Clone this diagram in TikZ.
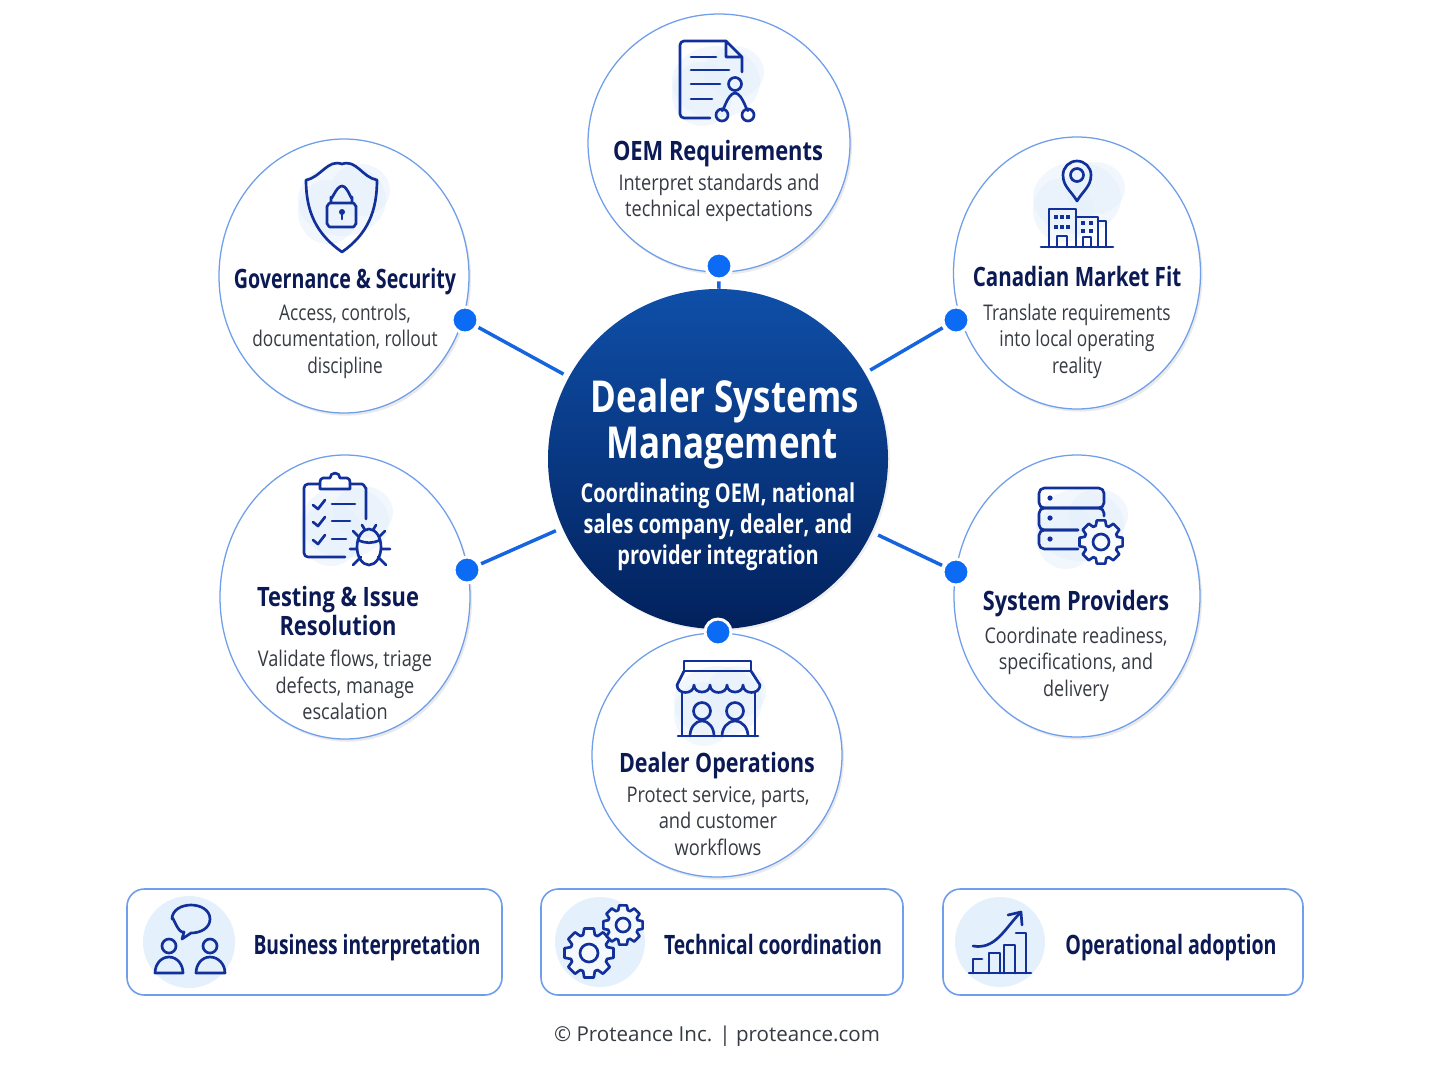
\documentclass[tikz,border=0pt]{standalone}
\usepackage{fontspec}
\usetikzlibrary{shapes.geometric,shadows,arrows.meta}
\setmainfont{Open Sans}
\newfontfamily\headfont{Open Sans}[FakeStretch=0.76]
\newfontfamily\bodyfont{Open Sans}[FakeStretch=0.80]
\newcommand{\pxu}{0.75pt}
\definecolor{ringblue}{HTML}{6F9EEB}
\definecolor{dotblue}{HTML}{0B6BF5}
\definecolor{linkblue}{HTML}{1565E0}
\definecolor{iconblue}{HTML}{12309A}
\definecolor{navytext}{HTML}{0B1A55}
\definecolor{bodygray}{HTML}{363A42}
\definecolor{paleblue}{HTML}{E4F0FB}
\definecolor{hubtop}{HTML}{0F4FA8}
\definecolor{hubbottom}{HTML}{02215C}
\tikzset{
    spoke/.style={ellipse, draw=ringblue, line width=0.95pt, fill=white, inner sep=0pt,
        drop shadow={shadow xshift=1.5pt, shadow yshift=-2pt, fill=black!16}},
    hubnode/.style={circle, minimum size=340*\pxu, inner sep=0pt, top color=hubtop, bottom color=hubbottom,
        drop shadow={shadow xshift=1.5pt, shadow yshift=-1.5pt, fill=black!12}},
    linkdot/.style={circle, minimum size=26*\pxu, inner sep=0pt, fill=dotblue, draw=white, line width=2.2pt},
    link/.style={draw=linkblue, line width=2.6pt},
    stretched/.style={xscale=#1, transform shape},
    title/.style={align=center, text=navytext, inner sep=0pt, font=\headfont\bfseries\fontsize{20}{22}\selectfont},
    blurb/.style={align=center, text=bodygray, inner sep=0pt, font=\bodyfont\fontsize{16.2}{19.9}\selectfont},
    hubtitle/.style={align=center, text=white, inner sep=0pt, font=\headfont\bfseries\fontsize{33}{34.5}\selectfont},
    hubtext/.style={align=center, text=white, inner sep=0pt, font=\headfont\bfseries\fontsize{19.5}{23.3}\selectfont},
    band/.style={rectangle, rounded corners=13pt, draw=ringblue, line width=1.2pt, fill=white, inner sep=0pt, minimum height=106*\pxu},
    bandtext/.style={text=navytext, inner sep=0pt, font=\headfont\bfseries\fontsize{20}{22}\selectfont},
    icon/.style={draw=iconblue, line width=2pt, line join=round, line cap=round},
    blob/.style={fill=paleblue, fill opacity=0.5},
}
\newcommand{\gearicon}[5]{
    \begin{scope}[shift={(#1,#2)}]
    \draw[icon, fill=white, fill opacity=0.6] (11:#3)
        \foreach \a in {0,45,...,315} {
            -- (\a+11:#3) -- (\a+18:#4) -- (\a+27:#4) -- (\a+34:#3)
        } -- cycle;
    \draw[icon] (0,0) circle (#5);
    \end{scope}
}
\newcommand{\iconblob}[2]{
    \fill[blob] (#1,#2) ellipse (44 and 36);
    \fill[blob] (#1-14,#2+12) ellipse (30 and 32);
    \fill[blob] (#1+18,#2-10) ellipse (30 and 26);
}
\begin{document}
\begin{tikzpicture}[x=0.75pt, y=-0.75pt]
\useasboundingbox (0,0) rectangle (1448,1086);
\path[fill=white] (0,0) rectangle (1448,1086);

% spokes
\node[spoke, minimum width=262*\pxu, minimum height=258*\pxu] (oem) at (719,143) {};
\node[spoke, minimum width=250*\pxu, minimum height=274*\pxu] (gov) at (344,276) {};
\node[spoke, minimum width=247*\pxu, minimum height=272*\pxu] (can) at (1077,273) {};
\node[spoke, minimum width=250*\pxu, minimum height=284*\pxu] (tst) at (345,597) {};
\node[spoke, minimum width=246*\pxu, minimum height=282*\pxu] (sys) at (1077,596) {};
\node[spoke, minimum width=250*\pxu, minimum height=244*\pxu] (dlr) at (717,755) {};

% hub
\node[hubnode] (hub) at (718,459) {};
\node[hubtitle, stretched=1.045] (hubhead) at (722,424) {\hspace*{4pt}Dealer Systems\\Management};
\node[hubtext, stretched=1.01] (hubsub) at (718,527) {Coordinating OEM, national\\sales company, dealer, and\\provider integration};

% dots and links
\node[linkdot] (dotoem) at (719,266) {};
\node[linkdot] (dotgov) at (465,320) {};
\node[linkdot] (dotcan) at (956,320) {};
\node[linkdot] (dottst) at (467,570) {};
\node[linkdot] (dotsys) at (956,572) {};
\node[linkdot] (dotdlr) at (718,632) {};
\foreach \d/\s in {dotoem/0, dotgov/6, dotcan/6, dottst/7, dotsys/7}
    \draw[link, shorten <=\s*\pxu, shorten >=1*\pxu] (hub) -- (\d);

% blobs
\iconblob{716}{82}
\iconblob{342}{200}
\iconblob{1077}{198}
\iconblob{345}{522}
\iconblob{1080}{525}
\iconblob{718}{702}

% document icon
\draw[icon] (726,41) -- (684,41) to[out=180, in=90] (680,45) -- (680,114) to[out=-90, in=180] (684,118) -- (710,118);
\draw[icon] (726,41) -- (742,57) -- (742,72) (726,41) -- (726,57) -- (742,57);
\draw[icon] (691,57) -- (716,57) (691,70) -- (729,70) (691,84) -- (720,84) (691,99) -- (712,99);
\draw[icon] (735,84) circle (6.5) (722,115) circle (6) (748,115) circle (6);
\draw[icon] (722,109) to[out=-90, in=180] (735,93) to[out=0, in=-90] (748,109);

% shield icon
\draw[icon] (342,164) to[out=20, in=170] (377,180) to[out=-90, in=35] (342,252) to[out=145, in=-90] (306,180) to[out=10, in=160] cycle;
\draw[icon] (327,206) to[out=-90, in=180] (330,203) -- (353,203) to[out=0, in=-90] (356,206) -- (356,224) to[out=90, in=0] (353,227) -- (330,227) to[out=180, in=90] (327,224) -- cycle;
\draw[icon] (331,203) -- (331,197) to[out=-90, in=180] (342,186) to[out=0, in=-90] (352,197) -- (352,203);
\fill[iconblue] (342,212) circle (3);
\draw[icon] (342,212) -- (342,219);

% pin and buildings icon
\draw[icon] (1077,201) to[out=120, in=-90] (1063,175) to[out=90, in=180] (1077,161) to[out=0, in=90] (1091,175) to[out=-90, in=60] cycle;
\draw[icon] (1077,175) circle (6.5);
\draw[icon] (1049,247) -- (1049,209) -- (1076,209) -- (1076,247) (1076,217) -- (1098,217) -- (1098,247) (1098,221) -- (1106,221) -- (1106,247);
\draw[icon] (1041,247) -- (1113,247);
\draw[icon] (1057,247) -- (1057,236) -- (1067,236) -- (1067,247) (1083,247) -- (1083,237) -- (1091,237) -- (1091,247);
\foreach \wx/\wy in {1056/217, 1062/217, 1068/217, 1056/227, 1062/227, 1068/227, 1083/223, 1091/223, 1083/231, 1091/231}
    \fill[iconblue] (\wx-2,\wy-2) rectangle (\wx+2,\wy+2);

% clipboard and bug icon
\draw[icon] (366,519) -- (366,488) to[out=-90, in=0] (362,484) -- (350,484) (320,484) -- (308,484) to[out=180, in=90] (304,488) -- (304,553) to[out=-90, in=180] (308,557) -- (345,557);
\draw[icon] (320,489) -- (320,482) to[out=90, in=180] (323,478) -- (330,478) to[out=90, in=180] (335,473) to[out=0, in=90] (340,478) -- (347,478) to[out=0, in=90] (350,482) -- (350,489) -- cycle;
\foreach \cy/\lx in {500/355, 517/350, 535/346} {
    \draw[icon] (313,\cy+5) -- (318,\cy+9) -- (325,\cy);
    \draw[icon] (332,\cy+4) -- (\lx,\cy+4);
}
\draw[icon] (369,547) ellipse (12 and 18);
\draw[icon] (358,540) to[out=-25, in=205] (380,540);
\draw[icon] (350,549) -- (357,549) (381,549) -- (390,549) (353,531) -- (359,537) (385,531) -- (379,537) (353,565) -- (361,557) (386,565) -- (378,557) (362,525) -- (365,530) (376,525) -- (373,530);

% server icon
\draw[icon, rounded corners=4pt] (1039,488) rectangle (1104,508);
\draw[icon, rounded corners=4pt] (1078,530) -- (1039,530) -- (1039,508) -- (1104,508) -- (1104,516);
\draw[icon, rounded corners=4pt] (1078,549) -- (1039,549) -- (1039,530) -- (1078,530);
\foreach \sy in {498,518,539} \fill[iconblue] (1050,\sy) circle (2.6);
\gearicon{1101}{542}{22}{17}{8}

% store icon
\draw[icon] (684,671) -- (684,661) -- (751,661) -- (751,671) -- cycle;
\draw[icon] (684,671) -- (677,685) (751,671) -- (760,685);
\draw[icon] (677,685) to[out=-90, in=-90, looseness=1.5] (694,685) to[out=-90, in=-90, looseness=1.5] (710,685) to[out=-90, in=-90, looseness=1.5] (727,685) to[out=-90, in=-90, looseness=1.5] (743,685) to[out=-90, in=-90, looseness=1.5] (760,685);
\draw[icon] (682,693) -- (682,736) (755,693) -- (755,736) (678,736) -- (758,736);
\draw[icon] (702,711) circle (8.5) (735,711) circle (8.5);
\draw[icon] (690,736) to[out=90, in=180] (702,721) to[out=0, in=90] (714,736) (722,736) to[out=90, in=180] (735,721) to[out=0, in=90] (748,736);

% titles
\node[title, stretched=1.08] (oemtitle) at (718,154) {OEM Requirements};
\node[blurb, stretched=1.05] (oemtext) at (719,198) {Interpret standards and\\technical expectations};
\node[title, stretched=0.97] (govtitle) at (345,282) {Governance \& Security};
\node[blurb] (govtext) at (345,341) {Access, controls,\\documentation, rollout\\discipline};
\node[title, stretched=1.015] (cantitle) at (1077,276) {Canadian Market Fit};
\node[blurb] (cantext) at (1077,341) {Translate requirements\\into local operating\\reality};
\node[title, stretched=1.08] (tsttitle) at (338,611) {Testing \& Issue\\Resolution};
\node[blurb, stretched=1.05] (tsttext) at (345,685) {Validate flows, triage\\defects, manage\\escalation};
\node[title, stretched=1.07] (systitle) at (1076,604) {System Providers};
\node[blurb, stretched=1.04] (systext) at (1076,664) {Coordinate readiness,\\specifications, and\\delivery};
\node[title, stretched=1.06] (dlrtitle) at (717,766) {Dealer Operations};
\node[blurb, stretched=1.06] (dlrtext) at (718,821) {Protect service, parts,\\and customer\\workflows};

% bottom bands
\node[band, minimum width=375*\pxu] (bandbiz) at (314.5,942) {};
\node[band, minimum width=362*\pxu] (bandtech) at (722,942) {};
\node[band, minimum width=360*\pxu] (bandops) at (1123,942) {};
\fill[paleblue] (189,942) circle (46);
\fill[paleblue] (600,942) circle (45);
\fill[paleblue] (1000,942) circle (45);
\node[bandtext, stretched=0.95] (biztext) at (367,948) {Business interpretation};
\node[bandtext, stretched=0.95] (techtext) at (773,944) {Technical coordination};
\node[bandtext, stretched=0.97] (opstext) at (1171,948) {Operational adoption};

% people talking icon
\draw[icon] (184,932) to[out=200, in=90] (172,919) to[out=-90+180, in=180] (191,905) to[out=0, in=90] (210,919) to[out=-90, in=0] (191,933) -- (182,939) -- cycle;
\draw[icon] (169,946) circle (7) (210,946) circle (7);
\draw[icon] (155,973) to[out=90, in=180] (169,957) to[out=0, in=90] (183,973) -- cycle;
\draw[icon] (196,973) to[out=90, in=180] (210,957) to[out=0, in=90] (225,973) -- cycle;

% gears icon
\gearicon{589}{953}{25}{19}{9}
\gearicon{623}{925}{20}{15.5}{7}

% chart icon
\draw[icon] (969,973) -- (1031,973);
\draw[icon] (973,973) -- (973,959) -- (982,959);
\draw[icon] (989,973) -- (989,953) -- (1000,953) -- (1000,973);
\draw[icon] (1004,973) -- (1004,945) -- (1015,945) -- (1015,973);
\draw[icon] (1016,933) -- (1026,933) -- (1026,973);
\draw[icon] (973,946) to[out=-10, in=225] (1021,912);
\draw[icon] (1008,915) -- (1021,912) -- (1022,925);

% footer
\node[inner sep=0pt, text=bodygray, font=\fontsize{15.4}{20}\selectfont] (footer) at (717,1036) {© Proteance Inc. | proteance.com};
\end{tikzpicture}
\end{document}
